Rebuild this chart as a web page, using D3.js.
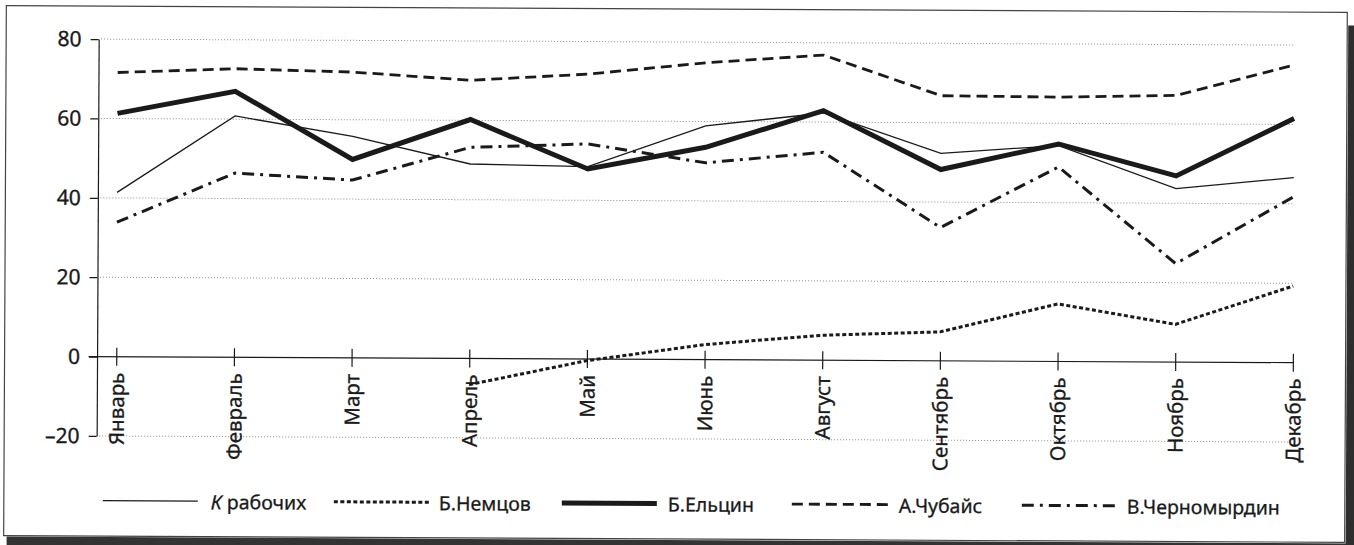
<!DOCTYPE html>
<html>
<head>
<meta charset="utf-8">
<script src="https://cdn.jsdelivr.net/npm/d3@7"></script>
<style>
  html, body { margin: 0; padding: 0; background: #fff; }
  svg { display: block; }
  text { font-family: "Noto Sans", "DejaVu Sans", sans-serif; fill: #1a1a1a; }
</style>
</head>
<body>
<svg id="chart" width="1354" height="545"></svg>
<script>
// ---------- data ----------
const months = ["Январь", "Февраль", "Март", "Апрель", "Май", "Июнь", "Август",
                "Сентябрь", "Октябрь", "Ноябрь", "Декабрь"];
const yTicks = [-20, 0, 20, 40, 60, 80];

const workers      = [41.4, 60.8, 55.8, 49.0, 48.5, 58.9, 62.3, 52.3, 54.4, 43.7, 46.6];
const nemtsov      = [null, null, null, -6.6, -0.4, 3.8, 6.3, 7.3, 14.5, 9.5, 19.3];
const yeltsin      = [61.3, 67.0, 50.0, 60.2, 47.9, 53.5, 62.9, 48.2, 54.8, 46.9, 61.5];
const chubais      = [71.6, 72.7, 72.0, 70.1, 71.8, 74.8, 76.9, 66.8, 66.6, 67.2, 75.0];
const chernomyrdin = [33.9, 46.4, 44.8, 53.2, 54.2, 49.6, 52.4, 33.6, 49.0, 24.8, 41.8];

const seriesNames = ["К рабочих", "Б.Немцов", "Б.Ельцин", "А.Чубайс", "В.Черномырдин"];
const seriesValues = [workers, nemtsov, yeltsin, chubais, chernomyrdin];

// ---------- styles ----------
const ink = "#1a1a1a";
const styles = [
  { width: 1.3, dash: null },
  { width: 3,   dash: "4,2.5" },
  { width: 5,   dash: null },
  { width: 2.8, dash: "11,6" },
  { width: 3,   dash: "12,6,3,6" }
];

const svg = d3.select("#chart");
const root = svg.append("g").attr("transform", "rotate(0.29 677 272)");

// ---------- frame ----------
root.append("rect").attr("x", 8).attr("y", 540).attr("width", 1352).attr("height", 14)
  .attr("fill", "#333");
root.append("rect").attr("x", 1347).attr("y", 22).attr("width", 12).attr("height", 530)
  .attr("fill", "#2e2e2e");
root.append("rect").attr("x", 5).attr("y", 9).attr("width", 1341).attr("height", 530)
  .attr("fill", "#fff").attr("stroke", "#444").attr("stroke-width", 1.2);

// ---------- scales ----------
const x = d3.scalePoint().domain(months).range([116.7, 1293.3]).padding(0);
const y = d3.scaleLinear().domain([-20, 80]).range([438.9, 42]);
const y0 = y(0);

// ---------- gridlines ----------
root.append("g").selectAll("line")
  .data(yTicks.filter(d => d !== 0))
  .join("line")
  .attr("x1", 100).attr("x2", x(months[months.length - 1]))
  .attr("y1", d => y(d)).attr("y2", d => y(d))
  .attr("stroke", "#8a8a8a").attr("stroke-width", 1)
  .attr("stroke-dasharray", "1,2");

// zero line
root.append("line")
  .attr("x1", 89).attr("x2", x(months[months.length - 1]) + 1)
  .attr("y1", y0).attr("y2", y0)
  .attr("stroke", ink).attr("stroke-width", 1.2);

// ---------- y axis ----------
const yAxis = root.append("g").attr("transform", "translate(97.5,0)")
  .call(d3.axisLeft(y).tickValues(yTicks).tickSizeInner(8).tickSizeOuter(0).tickPadding(9)
    .tickFormat(d => d < 0 ? "\u2013" + Math.abs(d) : d));
yAxis.select(".domain").attr("stroke", ink).attr("stroke-width", 1.2);
yAxis.selectAll(".tick line").attr("stroke", ink).attr("stroke-width", 1.2);
yAxis.selectAll("text").attr("font-size", 21).attr("fill", ink)
  .attr("stroke", ink).attr("stroke-width", 0.35)
  .attr("font-family", "'Noto Sans', sans-serif");

// ---------- x axis (ticks crossing zero line) ----------
const xAxis = root.append("g").attr("transform", `translate(0,${y0 - 9})`)
  .call(d3.axisBottom(x).tickSizeInner(18).tickSizeOuter(0).tickPadding(0));
xAxis.select(".domain").remove();
xAxis.selectAll(".tick line").attr("stroke", ink).attr("stroke-width", 1.2);
xAxis.selectAll("text")
  .attr("font-size", 20.5).attr("fill", ink)
  .attr("stroke", ink).attr("stroke-width", 0.3)
  .attr("font-family", "'Noto Sans', sans-serif")
  .attr("transform", "rotate(-90)")
  .attr("text-anchor", "end")
  .attr("x", -25).attr("y", 0).attr("dy", "0.36em");

// ---------- lines ----------
const line = d3.line()
  .defined(d => d.v !== null)
  .x(d => x(d.m))
  .y(d => y(d.v));

const order = [0, 1, 4, 3, 2];
order.forEach(i => {
  const data = months.map((m, j) => ({ m, v: seriesValues[i][j] }));
  root.append("path")
    .datum(data)
    .attr("d", line)
    .attr("fill", "none")
    .attr("stroke", ink)
    .attr("stroke-width", styles[i].width)
    .attr("stroke-dasharray", styles[i].dash)
    .attr("stroke-linejoin", "miter")
    .attr("stroke-linecap", "butt");
});

// ---------- legend ----------
const legendItems = [
  { x1: 104, x2: 199, tx: 212 },
  { x1: 335, x2: 430, tx: 440 },
  { x1: 563, x2: 658, tx: 669 },
  { x1: 793, x2: 890, tx: 900 },
  { x1: 1023, x2: 1117, tx: 1128 }
];
const ly = 503.5;
const lg = root.append("g");
seriesNames.forEach((name, i) => {
  const it = legendItems[i];
  lg.append("line")
    .attr("x1", it.x1).attr("x2", it.x2).attr("y1", ly).attr("y2", ly)
    .attr("stroke", ink)
    .attr("stroke-width", styles[i].width)
    .attr("stroke-dasharray", styles[i].dash);
  const t = lg.append("text").attr("x", it.tx).attr("y", ly + 8)
    .attr("font-size", 19.5).attr("fill", ink)
    .attr("stroke", ink).attr("stroke-width", 0.3);
  if (i === 0) {
    t.append("tspan").attr("font-style", "italic").text(name.slice(0, 1));
    t.append("tspan").text(name.slice(1));
  } else {
    t.text(name);
  }
});
</script>
</body>
</html>
